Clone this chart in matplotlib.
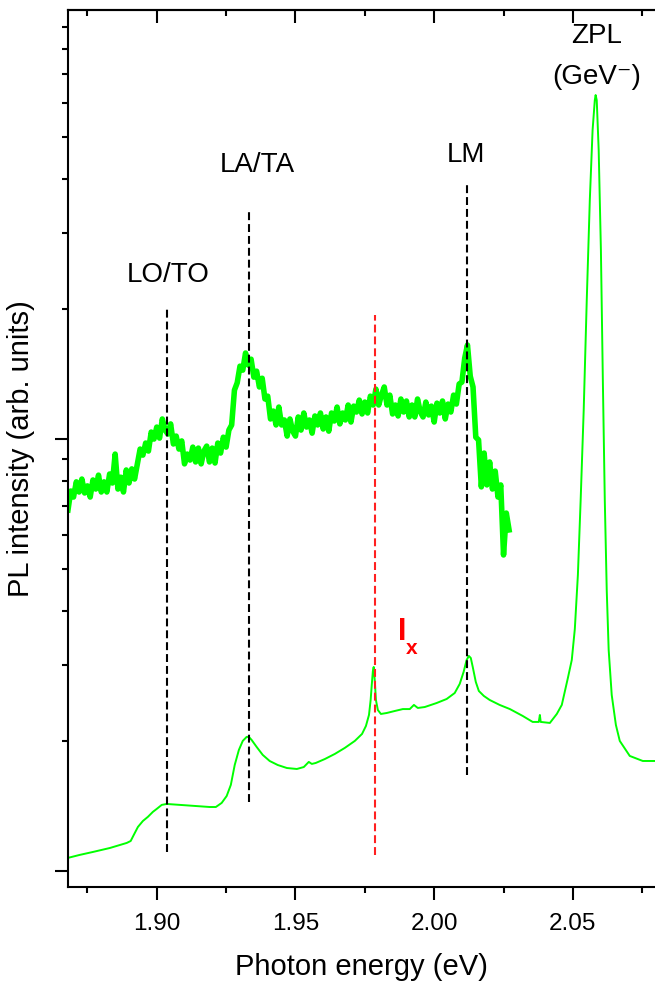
import numpy as np
import matplotlib.pyplot as plt
from matplotlib.ticker import MultipleLocator, LogLocator, NullFormatter, FormatStrFormatter

plt.rcParams['font.family'] = ['Liberation Sans', 'DejaVu Sans']

# noisy spectrum (upper trace), sampled every 1 meV
upper_e = np.round(np.arange(1.868, 2.0275, 0.001), 3)
upper_i = [6.85, 7.58, 7.34, 7.96, 7.54, 8.08, 7.50, 7.79, 7.34, 8.04,
           7.66, 8.25, 7.54, 7.96, 7.54, 8.30, 7.91, 9.23, 7.66, 8.16,
           7.54, 8.48, 7.91, 8.53, 8.08, 8.76, 9.48, 9.18, 9.79, 9.38,
           10.38, 10.00, 10.66, 10.05, 11.13, 10.49, 10.27, 10.84, 9.74, 10.16,
           9.48, 9.90, 8.76, 9.23, 8.94, 9.58, 8.85, 9.53, 8.76, 9.38,
           9.63, 8.85, 9.53, 8.80, 9.79, 9.28, 10.10, 9.58, 10.49, 10.78,
           12.98, 13.50, 14.75, 14.44, 15.82, 14.83, 15.31, 13.91, 14.36, 13.20,
           13.83, 12.38, 12.57, 11.13, 11.61, 10.78, 11.86, 10.78, 11.07, 10.16,
           11.13, 10.43, 10.16, 11.25, 10.49, 11.49, 10.66, 11.07, 10.32, 11.31,
           10.78, 11.49, 10.55, 11.25, 10.43, 11.49, 11.01, 11.86, 10.84, 11.49,
           11.07, 11.99, 10.95, 11.92, 11.55, 12.31, 11.43, 12.18, 11.49, 12.57,
           11.99, 13.05, 11.99, 12.64, 13.20, 11.99, 12.64, 11.43, 11.99, 11.31,
           12.38, 11.55, 12.25, 11.25, 11.99, 11.25, 12.38, 11.55, 11.25, 12.18,
           11.37, 11.92, 10.95, 12.11, 11.49, 12.25, 11.13, 12.05, 11.55, 12.64,
           12.05, 13.41, 13.55, 15.39, 16.51, 13.98, 13.20, 10.10, 9.95, 7.75,
           9.28, 7.83, 8.85, 7.66, 8.43, 7.34, 7.83, 5.39, 6.74, 6.16]

# full spectrum with the ZPL (lower trace)
lower_e = [1.8680, 1.8722, 1.8769, 1.8831, 1.8892, 1.8906, 1.8917, 1.8932, 1.8950, 1.8968,
           1.8986, 1.9000, 1.9018, 1.9036, 1.9083, 1.9137, 1.9191, 1.9213, 1.9234, 1.9252,
           1.9267, 1.9281, 1.9296, 1.9310, 1.9324, 1.9332, 1.9342, 1.9360, 1.9382, 1.9407,
           1.9436, 1.9469, 1.9505, 1.9530, 1.9548, 1.9559, 1.9573, 1.9606, 1.9642, 1.9678,
           1.9714, 1.9740, 1.9754, 1.9765, 1.9771, 1.9775, 1.9779, 1.9782, 1.9786, 1.9790,
           1.9797, 1.9808, 1.9829, 1.9858, 1.9887, 1.9912, 1.9927, 1.9941, 1.9966, 2.0009,
           2.0045, 2.0074, 2.0092, 2.0106, 2.0117, 2.0125, 2.0132, 2.0139, 2.0150, 2.0161,
           2.0179, 2.0200, 2.0236, 2.0273, 2.0319, 2.0355, 2.0377, 2.0381, 2.0384, 2.0417,
           2.0442, 2.0460, 2.0482, 2.0496, 2.0507, 2.0518, 2.0528, 2.0539, 2.0550, 2.0561,
           2.0571, 2.0579, 2.0582, 2.0586, 2.0593, 2.0601, 2.0608, 2.0615, 2.0622, 2.0629,
           2.0640, 2.0655, 2.0669, 2.0705, 2.0752, 2.0795]
lower_i = [1.072, 1.089, 1.106, 1.130, 1.161, 1.173, 1.211, 1.264, 1.305, 1.334,
           1.370, 1.392, 1.422, 1.429, 1.422, 1.414, 1.406, 1.406, 1.437, 1.491,
           1.582, 1.759, 1.906, 2.000, 2.043, 2.043, 2.010, 1.937, 1.856, 1.797,
           1.759, 1.731, 1.722, 1.740, 1.788, 1.769, 1.778, 1.816, 1.866, 1.927,
           2.000, 2.076, 2.166, 2.297, 2.488, 2.696, 2.900, 2.967, 2.750, 2.488,
           2.358, 2.309, 2.321, 2.346, 2.370, 2.370, 2.423, 2.384, 2.396, 2.448,
           2.501, 2.582, 2.710, 2.888, 3.079, 3.146, 3.112, 2.967, 2.739, 2.610,
           2.542, 2.488, 2.423, 2.370, 2.285, 2.213, 2.213, 2.297, 2.213, 2.201,
           2.309, 2.423, 2.798, 3.079, 3.633, 4.844, 7.22, 11.67, 20.98, 35.75,
           51.9, 60.9, 62.6, 60.9, 46.67, 27.38, 13.69, 7.22, 4.47, 3.248,
           2.555, 2.178, 2.000, 1.846, 1.797, 1.797]

# phonon sidebands and the I_x line
mark_e = [1.9037, 1.9334, 2.0119]
mark_lo = [1.106, 1.444, 1.668]
mark_hi = [20.1, 33.5, 38.7]
mark_text = ['LO/TO', 'LA/TA', 'LM']
mark_text_e = [1.9040, 1.9364, 2.0114]
mark_text_i = [23.97, 43.09, 45.44]
ix_e, ix_lo, ix_hi = 1.9786, 1.089, 19.4

fig = plt.figure(figsize=(6.55, 9.83), dpi=100)
ax = fig.add_axes([0.1038, 0.0977, 0.8962, 0.8921])

ax.plot(upper_e, upper_i, color='#00ff00', linewidth=4.0, solid_joinstyle='round')
ax.plot(lower_e, lower_i, color='#00ff00', linewidth=1.4)

for e, lo, hi in zip(mark_e, mark_lo, mark_hi):
    ax.plot([e, e], [lo, hi], color='black', linewidth=1.5, linestyle=(0, (3.8, 1.9)))
ax.plot([ix_e, ix_e], [ix_lo, ix_hi], color='#ff2020', linewidth=1.5, linestyle=(0, (3.8, 1.9)))

for t, e, v in zip(mark_text, mark_text_e, mark_text_i):
    ax.text(e, v, t, fontsize=20, ha='center', va='center')
ax.text(2.0586, 85.7, 'ZPL', fontsize=20, ha='center', va='center')
ax.text(2.0586, 68.9, '(GeV\u207b)', fontsize=20, ha='center', va='center')
ax.text(1.9883, 3.575, 'I', fontsize=22, fontweight='bold', color='red', ha='center', va='center')
ax.text(1.9919, 3.265, 'x', fontsize=15, fontweight='bold', color='red', ha='center', va='center')

ax.set_yscale('log')
ax.set_xlim(1.868, 2.0796)
ax.set_ylim(0.918, 98.5)

ax.xaxis.set_major_locator(MultipleLocator(0.05))
ax.xaxis.set_minor_locator(MultipleLocator(0.025))
ax.xaxis.set_major_formatter(FormatStrFormatter('%.2f'))
ax.yaxis.set_major_locator(LogLocator(base=10))
ax.yaxis.set_minor_locator(LogLocator(base=10, subs=range(2, 10)))
ax.yaxis.set_major_formatter(NullFormatter())
ax.yaxis.set_minor_formatter(NullFormatter())

ax.tick_params(axis='both', which='major', length=9.5, width=1.5, direction='out', labelsize=17.5, pad=9)
ax.tick_params(axis='both', which='minor', length=4.5, width=1.5, direction='out')
ax.spines['right'].set_visible(False)
for s in ['left', 'top', 'bottom']:
    ax.spines[s].set_linewidth(1.5)

# ticks pointing inward along the top edge
top = ax.secondary_xaxis('top')
top.xaxis.set_major_locator(MultipleLocator(0.05))
top.xaxis.set_minor_locator(MultipleLocator(0.025))
top.tick_params(which='major', length=9.5, width=1.5, direction='in', labeltop=False)
top.tick_params(which='minor', length=4.5, width=1.5, direction='in')
top.spines['top'].set_linewidth(1.5)

ax.set_xlabel('Photon energy (eV)', fontsize=21, labelpad=13)
ax.set_ylabel('PL intensity (arb. units)', fontsize=21, labelpad=5)

fig.savefig('out.png', dpi=100)
